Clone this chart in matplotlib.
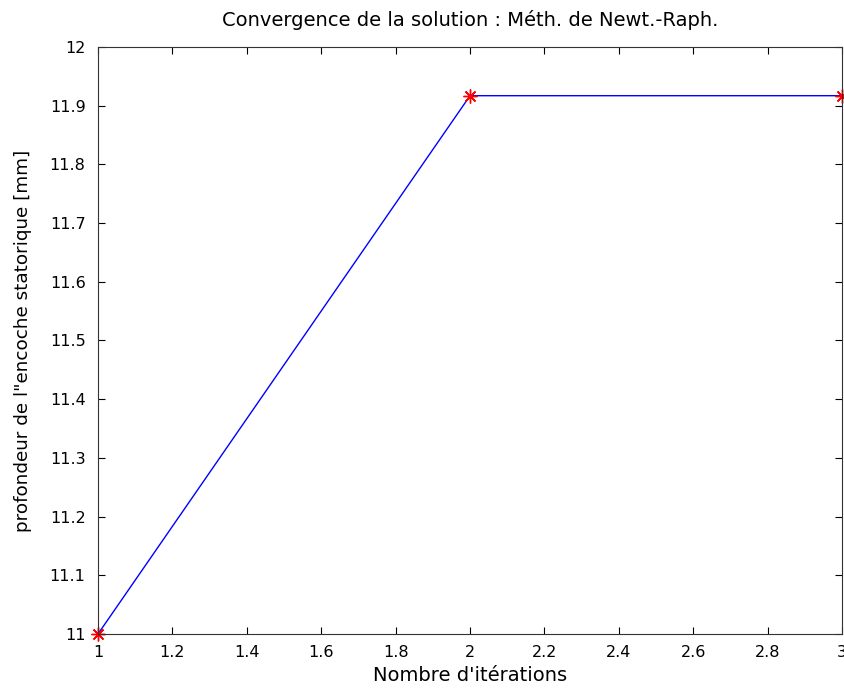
import matplotlib
matplotlib.use("Agg")
import matplotlib.pyplot as plt

iterations = [1, 2, 3]
profondeur = [11.0, 11.917, 11.917]
x_ticks = [1, 1.2, 1.4, 1.6, 1.8, 2, 2.2, 2.4, 2.6, 2.8, 3]
y_ticks = [11, 11.1, 11.2, 11.3, 11.4, 11.5, 11.6, 11.7, 11.8, 11.9, 12]

plt.rcParams['font.family'] = ['DejaVu Sans']

fig = plt.figure(figsize=(8.45, 6.95), dpi=100)
ax = fig.add_axes([0.116, 0.0878, 0.8805, 0.8446])

ax.plot(iterations, profondeur, color='blue', linewidth=1)
ax.plot(iterations, profondeur, linestyle='none', marker=(8, 2, 0), color='red',
        markersize=10, markeredgewidth=1.0, clip_on=False)

ax.set_xlim(1, 3)
ax.set_ylim(11, 12)
ax.set_xticks(x_ticks)
ax.set_xticklabels(['1', '1.2', '1.4', '1.6', '1.8', '2', '2.2', '2.4', '2.6', '2.8', '3'])
ax.set_yticks(y_ticks)
ax.set_yticklabels(['11', '11.1', '11.2', '11.3', '11.4', '11.5', '11.6', '11.7', '11.8', '11.9', '12'])
ax.tick_params(direction='in', length=5, width=0.8, top=True, right=True, labelsize=11.5)
ax.tick_params(axis='x', pad=8)
ax.tick_params(axis='y', pad=9)
for s in ax.spines.values():
    s.set_color('#333333')
    s.set_linewidth(0.8)

ax.set_xlabel("Nombre d'itérations", fontsize=14, labelpad=4)
ax.set_ylabel('profondeur de l"encoche statorique [mm]', fontsize=13.2, labelpad=13)
ax.set_title('Convergence de la solution : Méth. de Newt.-Raph.', fontsize=14, pad=15)

fig.savefig('out.png', dpi=100)
